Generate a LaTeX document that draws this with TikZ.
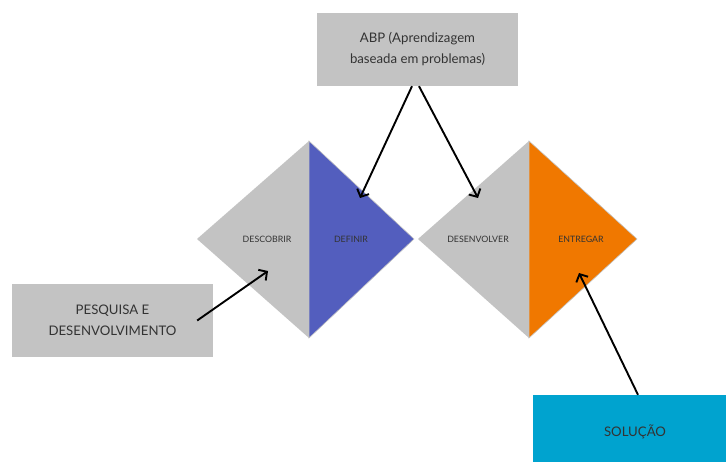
\documentclass[tikz,border=0pt]{standalone}
\usepackage{fontspec}
\setmainfont{Lato}
\usetikzlibrary{math,arrows.meta}
\definecolor{boxgrey}{HTML}{C3C3C3}
\definecolor{defblue}{HTML}{535EBE}
\definecolor{entorange}{HTML}{F07800}
\definecolor{solcyan}{HTML}{00A3CF}
\definecolor{txtgrey}{HTML}{333333}

\begin{document}
\begin{tikzpicture}[x=1pt, y=-1pt,
  box/.style={fill=boxgrey, align=center, text=txtgrey, font=\fontsize{13.2}{21}\selectfont},
  phase/.style={text=txtgrey, font=\fontsize{8.8}{10}\selectfont},
  pointer/.style={-{Straight Barb[length=6pt,width=13pt]}, line width=1.9pt}]
  \tikzmath{\t = 141; \b = 338; \m = 239;}
  \clip (0,0) rectangle (726,462);

  % first diamond
  \fill[boxgrey] (197,\m) -- (309,\t) -- (309,\b) -- cycle;
  \filldraw[fill=defblue, draw=boxgrey, line width=0.6pt] (309,\t) -- (414,\m) -- (309,\b) -- cycle;

  % second diamond
  \fill[boxgrey] (418,\m) -- (529,\t) -- (529,\b) -- cycle;
  \filldraw[fill=entorange, draw=boxgrey, line width=0.6pt] (529,\t) -- (637,\m) -- (529,\b) -- cycle;

  \node[phase] (descobrir) at (267,\m) {DESCOBRIR};
  \node[phase] (definir) at (351,\m) {DEFINIR};
  \node[phase] (desenvolver) at (478,\m) {DESENVOLVER};
  \node[phase] (entregar) at (581,\m) {ENTREGAR};

  % boxes
  \node[box, minimum width=201pt, minimum height=73pt] (abp) at (417.5,49.5) {ABP (Aprendizagem\\baseada em problemas)};
  \node[box, minimum width=201pt, minimum height=73pt] (pesquisa) at (112.5,320.5) {PESQUISA E\\DESENVOLVIMENTO};
  \node[box, fill=solcyan, minimum width=204pt, minimum height=74pt] (solucao) at (635,432) {SOLUÇÃO};

  \coordinate (tipdef) at (360,198);
  \coordinate (tipdes) at (478,198);
  \coordinate (tipdesc) at (268,271);
  \coordinate (tipent) at (579,273);

  \draw[pointer] ([xshift=-5.5pt]abp.south) -- (tipdef);
  \draw[pointer] ([xshift=1.5pt]abp.south) -- (tipdes);
  \draw[pointer] ([xshift=-16pt]pesquisa.east) -- (tipdesc);
  \draw[pointer] ([xshift=3pt]solucao.north) -- (tipent);
\end{tikzpicture}
\end{document}
